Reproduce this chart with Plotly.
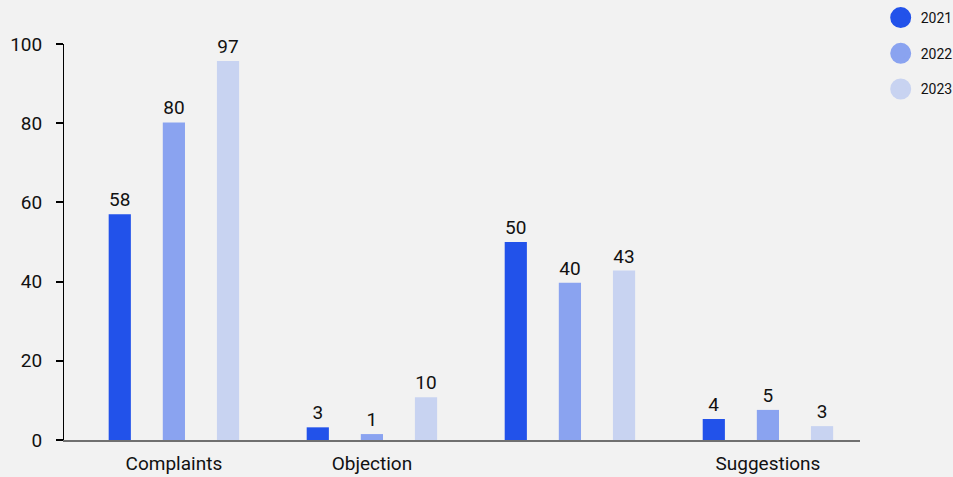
import plotly.graph_objects as go

categories = ["Complaints", "Objection", " ", "Suggestions"]
years = ["2021", "2022", "2023"]
# bar heights as drawn
values_2021 = [57.0, 3.2, 50.0, 5.3]
values_2022 = [80.2, 1.5, 39.7, 7.6]
values_2023 = [95.7, 10.8, 42.8, 3.5]
# printed labels
labels_2021 = ["58", "3", "50", "4"]
labels_2022 = ["80", "1", "40", "5"]
labels_2023 = ["97", "10", "43", "3"]
colors = ["#2252EA", "#8AA3F0", "#C8D3F1"]
y_ticks = [0, 20, 40, 60, 80, 100]

FONT = "Roboto"
fig = go.Figure()
for name, vals, labs, col in zip(years, [values_2021, values_2022, values_2023],
                                 [labels_2021, labels_2022, labels_2023], colors):
    fig.add_trace(go.Bar(
        x=categories, y=vals, name=name, marker=dict(color=col, line=dict(width=0)),
        text=labs, textposition="outside", cliponaxis=False,
        textfont=dict(family=FONT, size=19, color="#111111"),
        showlegend=False, hoverinfo="skip"))

for i, (name, col) in enumerate(zip(years, colors)):
    fig.add_trace(go.Scatter(
        x=[None], y=[None], mode="markers", name=name, legendgroup=name,
        marker=dict(color=col, size=16, symbol="circle", line=dict(color=col, width=5)),
        showlegend=True))

fig.update_layout(
    width=953, height=477,
    paper_bgcolor="#F2F2F2", plot_bgcolor="#F2F2F2",
    margin=dict(l=64, r=93, t=44, b=37, autoexpand=False),
    barmode="group", bargap=0.18, bargroupgap=0.59,
    font=dict(family=FONT, color="#111111"),
    legend=dict(
        x=1.026, y=1.106, xanchor="left", yanchor="top",
        font=dict(family=FONT, size=14, color="#111111"),
        bgcolor="rgba(0,0,0,0)", itemsizing="trace",
        traceorder="grouped", tracegroupgap=14.5,
    ),
    xaxis=dict(
        type="category", range=[-0.555, 3.465],
        showline=True, linecolor="#707070", linewidth=2,
        ticks="", showgrid=False, zeroline=False,
        ticklabelstandoff=5,
        tickfont=dict(family=FONT, size=19, color="#111111"),
    ),
    yaxis=dict(
        range=[0, 100], tickvals=y_ticks,
        showline=True, linecolor="#000000", linewidth=1,
        ticks="outside", ticklen=7, tickwidth=2, tickcolor="#000000",
        ticklabelstandoff=10,
        showgrid=False, zeroline=False,
        tickfont=dict(family=FONT, size=19, color="#111111"),
    ),
    yaxis2=dict(
        range=[0, 100], tickvals=y_ticks, overlaying="y", side="left", anchor="x",
        ticks="inside", ticklen=7, tickwidth=2, tickcolor="#000000",
        showticklabels=False, showgrid=False, zeroline=False, showline=False,
    ),
)
fig.write_html("out.html", config={"displayModeBar": False},
               post_script="document.body.style.margin='0';")
